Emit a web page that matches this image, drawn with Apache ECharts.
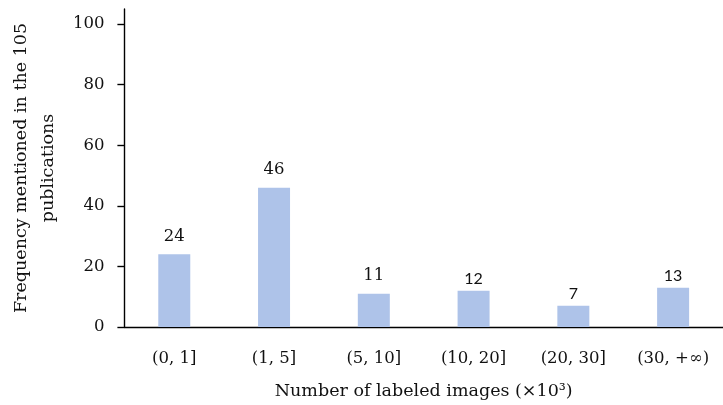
<!DOCTYPE html>
<html>
<head>
<meta charset="utf-8">
<script src="https://cdn.jsdelivr.net/npm/echarts@6/dist/echarts.min.js"></script>
<style>
  html, body { margin: 0; padding: 0; background: #fff; }
  #chart { width: 723px; height: 405px; }
</style>
</head>
<body>
<div id="chart"></div>
<script>
// Image-count ranges (thousands) and how often each is reported
const categories = ['(0, 1]', '(1, 5]', '(5, 10]', '(10, 20]', '(20, 30]', '(30, +∞)'];
const frequencies = [24, 46, 11, 12, 7, 13];
const yTicks = [0, 20, 40, 60, 80, 100];
// Font used for each value label
const labelFonts = ['serif', 'serif', 'serif', 'sans', 'sans', 'sans'];

const SERIF = '"DejaVu Serif", "Liberation Serif", serif';
const SANS = 'Lato, "Open Sans", sans-serif';

const chart = echarts.init(document.getElementById('chart'), null, { renderer: 'canvas' });

chart.setOption({
  animation: false,
  // the plot area runs slightly past the right edge of the canvas
  grid: { left: 122, width: 607, top: 9, bottom: 78, containLabel: false },
  xAxis: {
    type: 'category',
    data: categories,
    axisLine: { lineStyle: { color: '#000', width: 1.4 } },
    axisTick: { alignWithLabel: true, length: 5, lineStyle: { color: '#000', width: 1.4 } },
    axisLabel: { color: '#111', fontFamily: SERIF, fontSize: 16.5, margin: 23 },
    name: 'Number of labeled images (×10³)',
    nameLocation: 'middle',
    nameGap: 55,
    nameTextStyle: { color: '#111', fontFamily: SERIF, fontSize: 17.5 }
  },
  yAxis: {
    type: 'value',
    min: 0,
    max: 105,
    interval: 20,
    splitLine: { show: false },
    axisLine: { show: true, lineStyle: { color: '#000', width: 1.4 } },
    axisTick: { show: true, length: 7, customValues: yTicks, lineStyle: { color: '#000', width: 1.4 } },
    axisLabel: { color: '#111', fontFamily: SERIF, fontSize: 16.5, margin: 20, customValues: yTicks },
    name: 'Frequency mentioned in the 105\npublications',
    nameLocation: 'middle',
    nameGap: 53,
    nameRotate: 90,
    nameTextStyle: { color: '#111', fontFamily: SERIF, fontSize: 17.5, lineHeight: 27 }
  },
  series: [{
    type: 'bar',
    barWidth: 32,
    itemStyle: { color: '#aec3e9' },
    data: frequencies.map((v, i) => ({
      value: v,
      label: {
        show: true,
        position: 'top',
        distance: labelFonts[i] === 'serif' ? 9 : 4,
        color: '#111',
        fontFamily: labelFonts[i] === 'serif' ? SERIF : SANS,
        fontSize: labelFonts[i] === 'serif' ? 16.5 : 16
      }
    }))
  }]
});
</script>
</body>
</html>
